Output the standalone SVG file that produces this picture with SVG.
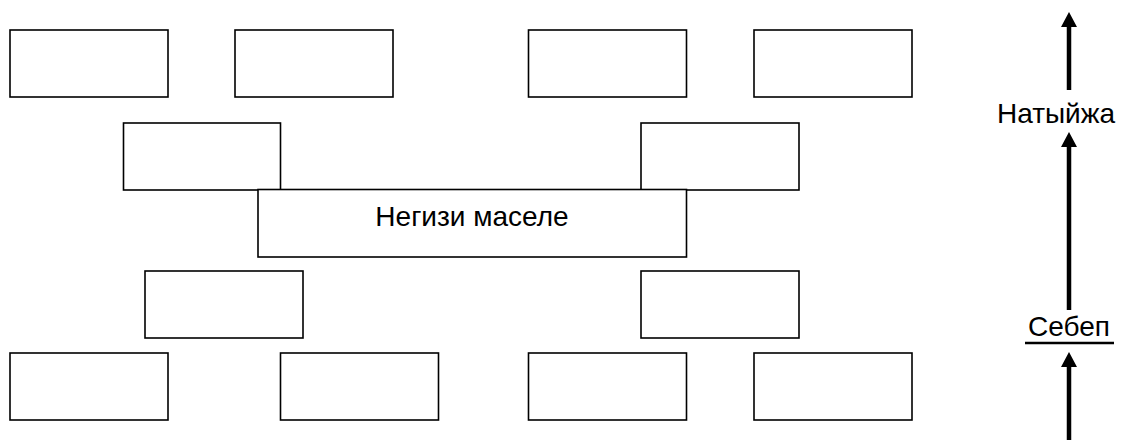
<svg xmlns="http://www.w3.org/2000/svg" width="1122" height="440" viewBox="0 0 1122 440">
  <style>
    .box { fill: #ffffff; stroke: #000000; stroke-width: 1.6; }
    .label { font-family: "Liberation Sans", Arial, sans-serif; font-size: 28px; fill: #000000; }
    .shaft { stroke: #000000; stroke-width: 4.5; fill: none; }
  </style>
  <defs>
    <marker id="head" markerUnits="userSpaceOnUse" viewBox="0 0 15 16" markerWidth="15" markerHeight="16" refX="0" refY="8" orient="auto">
      <path d="M0,0 L15,8 L0,16 Z" fill="#000000"/>
    </marker>
  </defs>
  <rect width="1122" height="440" fill="#ffffff"/>

  <!-- top row -->
  <g id="box-top-1"><rect class="box" x="10" y="30" width="158" height="67"/></g>
  <g id="box-top-2"><rect class="box" x="235" y="30" width="158" height="67"/></g>
  <g id="box-top-3"><rect class="box" x="528.5" y="30" width="158" height="67"/></g>
  <g id="box-top-4"><rect class="box" x="754" y="30" width="158" height="67"/></g>

  <!-- second row -->
  <g id="box-upper-left"><rect class="box" x="123.5" y="123" width="157" height="67"/></g>
  <g id="box-upper-right"><rect class="box" x="641" y="123" width="158" height="67"/></g>

  <!-- central problem -->
  <g id="box-core">
    <rect class="box" x="258" y="189.5" width="428.5" height="67.5"/>
    <text class="label" x="472" y="225.5" text-anchor="middle">Негизи маселе</text>
  </g>

  <!-- fourth row -->
  <g id="box-lower-left"><rect class="box" x="145" y="271" width="158" height="67"/></g>
  <g id="box-lower-right"><rect class="box" x="641" y="271" width="158" height="67"/></g>

  <!-- bottom row -->
  <g id="box-bottom-1"><rect class="box" x="10" y="353" width="158" height="67"/></g>
  <g id="box-bottom-2"><rect class="box" x="280.5" y="353" width="158" height="67"/></g>
  <g id="box-bottom-3"><rect class="box" x="528.5" y="353" width="158" height="67"/></g>
  <g id="box-bottom-4"><rect class="box" x="754" y="353" width="158" height="67"/></g>

  <!-- side scale labels -->
  <g id="label-result">
    <text class="label" x="1056" y="123" text-anchor="middle">Натыйжа</text>
  </g>
  <g id="label-cause">
    <text class="label" x="1069" y="336" text-anchor="middle">Себеп</text>
    <line x1="1025" y1="343" x2="1114" y2="343" stroke="#000000" stroke-width="2.5"/>
  </g>

  <!-- connectors -->
  <g id="connectors">
    <line class="shaft" x1="1069" y1="90" x2="1069" y2="27" marker-end="url(#head)"/>
    <line class="shaft" x1="1069" y1="310" x2="1069" y2="147" marker-end="url(#head)"/>
    <line class="shaft" x1="1069" y1="440" x2="1069" y2="367" marker-end="url(#head)"/>
  </g>
</svg>
